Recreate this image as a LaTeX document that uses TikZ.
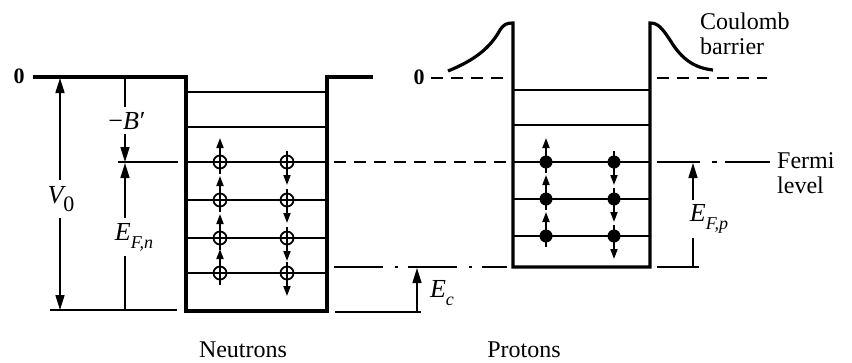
\documentclass[tikz,border=0pt]{standalone}
\usepackage{fontspec}
\setmainfont{Liberation Serif}
\usetikzlibrary{arrows.meta}
\begin{document}
\begin{tikzpicture}[x=1pt,y=-1pt,
  wall/.style={line width=3.2pt, line join=miter},
  lvl/.style={line width=1.8pt},
  thin/.style={line width=1.6pt},
  arr/.style={line width=1.6pt,-{Triangle[length=15pt,width=9pt]}},
  spin/.style={line width=1.8pt,-{Triangle[length=10pt,width=7pt]}},
  dsh/.style={line width=1.8pt, dash pattern=on 12pt off 8pt},
  lab/.style={font=\fontsize{24}{28}\selectfont, inner sep=0pt},
  zlab/.style={font=\fontsize{22}{24}\selectfont\bfseries, inner sep=0pt},
  mlab/.style={font=\fontsize{26}{28}\selectfont\itshape, inner sep=1pt},
  neut/.style={circle, draw, line width=1.8pt, minimum size=13pt, inner sep=0pt},
  prot/.style={circle, fill, minimum size=13pt, inner sep=0pt}]
\useasboundingbox (0,0) rectangle (852,362);
% ---------- neutron well ----------
\coordinate (nzl) at (33,77);
\coordinate (nlt) at (186,77);
\coordinate (nlb) at (186,311);
\coordinate (nrb) at (327,311);
\coordinate (nrt) at (327,77);
\coordinate (nzr) at (373,77);
\draw[wall] (nzl) -- (nlt) -- (nlb) -- (nrb) -- (nrt) -- (nzr);
\foreach \y in {92,127,162,200,238,273}
  \draw[lvl] (186,\y) -- (327,\y);
\foreach \y in {162,200,238,273} {
  \draw[spin] (220,\y+12) -- (220,\y-24);
  \node[neut] at (220,\y) {};
  \draw[spin] (287,\y-11) -- (287,\y+23);
  \node[neut] at (287,\y) {};
}
% left annotations
\node[zlab] (zn) at (19,76) {0};
\node[mlab] (v0) at (61,199) {V\raisebox{-8pt}{\upshape\fontsize{22}{24}\selectfont 0}};
\draw[arr] (60,180) -- (60,78);
\draw[arr] (60,218) -- (60,310);
\draw[thin] (50,310) -- (177,310);
\node[mlab] (bp) at (127,121) {{\upshape −}B\kern1pt{\upshape\char"2032}};
\draw[thin] (125,79) -- (125,107);
\draw[arr] (125,134) -- (125,162);
\draw[thin] (118,162) -- (178,162);
\node[mlab] (efn) at (134,237) {E\raisebox{-8pt}{\fontsize{18}{18}\selectfont F,n}};
\draw[arr] (125,218) -- (125,163);
\draw[thin] (125,256) -- (125,310);
% ---------- middle ----------
\draw[dsh] (334,162) -- (507,162);
\draw[line width=1.8pt, dash pattern=on 49pt off 12pt on 3pt off 10pt] (334,267) -- (507,267);
\draw[thin] (335,312) -- (421,312);
\draw[arr] (417,312) -- (417,268);
\node[mlab] (ec) at (442,293) {E\raisebox{-8pt}{\fontsize{18}{18}\selectfont c}};
\node[zlab] (zp) at (419,77) {0};
\draw[dsh] (431,78) -- (508,78);
% ---------- proton well ----------
\draw[wall] (448,71) .. controls (475,60) and (490,48) .. (500,30)
  .. controls (504,24) and (507,23) .. (513,23) -- (513,267) -- (650,267) -- (650,23)
  .. controls (658,23) and (662,28) .. (670,40)
  .. controls (682,60) and (695,68) .. (713,70);
\foreach \y in {90,125,162,199,236}
  \draw[lvl] (513,\y) -- (650,\y);
\foreach \y in {162,199,236} {
  \draw[spin] (546,\y+11) -- (546,\y-24);
  \node[prot] at (546,\y) {};
  \draw[spin] (614,\y-11) -- (614,\y+23);
  \node[prot] at (614,\y) {};
}
\draw[dsh] (657,78) -- (767,78);
\draw[lvl] (657,162) -- (700,162);
\draw[lvl] (712,162) -- (717,162);
\draw[lvl] (725,162) -- (770,162);
\draw[thin] (657,267) -- (699,267);
\node[mlab] (efp) at (709,219) {E\raisebox{-8pt}{\fontsize{18}{18}\selectfont F,p}};
\draw[arr] (693,200) -- (693,163);
\draw[thin] (693,238) -- (693,267);
% labels
\node[lab, align=left, anchor=west] (cb) at (700,34) {Coulomb\\[-3pt]barrier};
\node[lab, align=left, anchor=west] (fl) at (777,173) {Fermi\\[-3pt]level};
\node[lab] (nt) at (243,350) {Neutrons};
\node[lab] (pt) at (524,350) {Protons};
\end{tikzpicture}
\end{document}
